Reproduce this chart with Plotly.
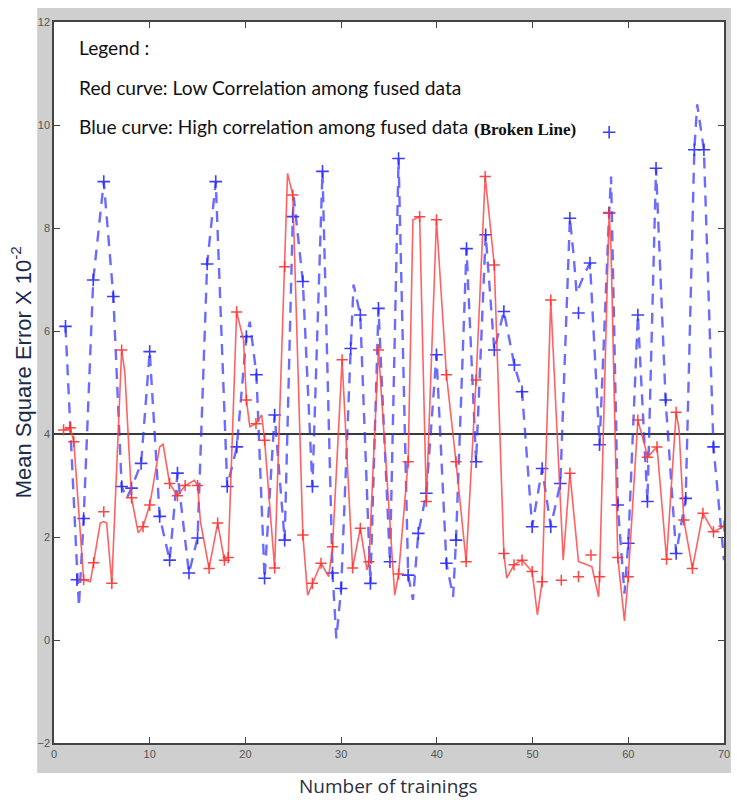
import plotly.graph_objects as go

# ---------------- data ----------------
red_x = [1.0, 1.7, 2.07, 3.1, 3.8, 4.14, 4.83, 5.18, 5.5, 6.04, 7.07, 7.4, 8.1, 8.8, 9.3, 10.0,
         11.04, 11.4, 12.08, 12.9, 13.7, 14.67, 15.0, 15.3, 16.2, 17.1, 17.8, 18.2, 19.08, 19.8,
         20.1, 20.46, 21.1, 21.7, 22.0, 23.05, 24.1, 24.4, 24.95, 26.0, 26.5, 27.0, 27.9, 28.7,
         29.1, 30.1, 31.2, 32.0, 32.7, 32.9, 33.9, 35.6, 36.0, 37.0, 37.5, 38.2, 38.9, 39.96,
         41.0, 42.0, 43.06, 44.1, 45.05, 46.0, 47.0, 47.3, 48.06, 48.9, 49.96, 50.5, 51.0, 51.9,
         53.2, 53.9, 54.8, 55.3, 56.2, 56.9, 57.0, 58.0, 58.2, 58.9, 59.6, 60.0, 61.0, 61.8,
         62.0, 63.0, 64.0, 65.0, 65.3, 65.8, 66.7, 67.8, 68.9, 70.0]
red_y = [4.08, 4.12, 3.85, 1.17, 1.13, 1.5, 2.27, 2.3, 2.27, 1.1, 5.63, 5.2, 2.76, 2.08, 2.2, 2.62,
         3.75, 3.8, 3.04, 2.8, 3.0, 3.1, 3.0, 2.3, 1.39, 2.27, 1.55, 1.6, 6.37, 5.83,
         4.66, 4.14, 4.2, 4.37, 3.88, 1.4, 7.25, 9.06, 8.64, 2.04, 0.87, 1.1, 1.49, 1.23,
         1.81, 5.44, 1.4, 2.17, 1.36, 1.52, 5.63, 0.87, 1.28, 3.46, 8.16, 8.22, 2.69, 8.16,
         5.15, 3.46, 1.52, 5.05, 9.0, 7.28, 1.68, 1.2, 1.46, 1.55, 1.33, 0.49, 1.13, 6.6,
         1.55, 3.24, 1.52, 1.49, 1.42, 0.84, 1.23, 8.3, 7.57, 1.6, 0.37, 1.23, 4.27, 3.72,
         3.55, 3.75, 1.57, 4.42, 4.1, 2.33, 1.39, 2.46, 2.1, 2.21]
red_marked = [1, 1, 1, 1, 0, 1, 0, 0, 0, 1, 1, 0, 1, 0, 1, 1,
              0, 0, 1, 1, 1, 0, 1, 0, 1, 1, 1, 1, 1, 0,
              1, 0, 1, 0, 1, 1, 1, 0, 1, 1, 0, 1, 1, 0,
              1, 1, 1, 1, 0, 1, 1, 0, 1, 1, 0, 1, 1, 1,
              1, 1, 1, 1, 1, 1, 1, 0, 1, 1, 1, 0, 1, 1,
              0, 1, 0, 0, 0, 0, 1, 1, 0, 1, 0, 1, 1, 0,
              1, 1, 1, 1, 0, 1, 1, 1, 1, 1]
red_extra_x = [5.2, 53.0, 54.8, 56.1]
red_extra_y = [2.49, 1.16, 1.23, 1.65]

blue_x = [1.2, 2.4, 2.6, 3.1, 4.1, 5.2, 6.2, 7.07, 7.6, 8.1, 9.1, 10.0, 11.04, 12.08, 12.9,
          14.1, 15.0, 16.0, 16.9, 18.1, 19.1, 20.1, 20.46, 21.15, 22.0, 23.05, 24.1, 24.95,
          25.05, 26.0, 27.0, 28.05, 29.1, 29.5, 30.0, 31.0, 31.3, 32.0, 33.06, 33.9, 35.1,
          36.0, 37.0, 37.5, 38.06, 38.9, 39.96, 41.0, 41.7, 42.0, 43.1, 44.1, 45.1, 46.0,
          47.0, 48.1, 48.9, 49.96, 51.0, 51.9, 52.9, 53.9, 54.3, 54.6, 55.4, 56.0, 57.0,
          58.0, 58.2, 58.9, 59.6, 60.0, 61.0, 62.0, 62.9, 63.9, 65.0, 66.0, 66.9, 67.2,
          67.9, 68.9, 70.0]
blue_y = [6.09, 1.17, 0.65, 2.36, 6.99, 8.9, 6.67, 2.98, 2.75, 2.95, 3.43, 5.6, 2.4, 1.55, 3.24,
          1.3, 1.98, 7.3, 8.9, 2.98, 3.75, 5.89, 6.18, 5.15, 1.2, 4.37, 1.94, 8.22,
          8.6, 6.96, 2.98, 9.1, 1.3, 0.03, 1.0, 5.66, 6.9, 6.31, 1.1, 6.44, 1.52,
          9.35, 1.26, 0.78, 2.07, 2.85, 5.54, 1.49, 0.84, 1.94, 7.6, 3.46, 7.87, 5.63,
          6.38, 5.34, 4.82, 2.2, 3.33, 2.2, 3.04, 8.19, 7.45, 6.73, 7.1, 7.32, 3.79,
          8.29, 9.0, 2.62, 0.9, 1.88, 6.31, 2.69, 9.16, 4.66, 1.68, 2.75, 9.52, 10.4,
          9.52, 3.75, 1.55]
blue_marked = [1, 1, 0, 1, 1, 1, 1, 1, 0, 1, 1, 1, 1, 1, 1,
               1, 1, 1, 1, 1, 1, 1, 0, 1, 1, 1, 1, 1,
               0, 1, 1, 1, 1, 0, 1, 1, 0, 1, 1, 1, 1,
               1, 1, 0, 1, 1, 1, 1, 0, 1, 1, 1, 1, 1,
               1, 1, 1, 1, 1, 1, 1, 1, 0, 0, 0, 1, 1,
               1, 0, 1, 0, 1, 1, 1, 1, 1, 1, 1, 1, 0,
               1, 1, 0]
blue_extra_x = [54.8, 58.0]
blue_extra_y = [6.35, 9.86]

threshold_x = [0, 70]
threshold_y = [4, 4]

x_ticks = [0, 10, 20, 30, 40, 50, 60, 70]
y_ticks = [-2, 0, 2, 4, 6, 8, 10, 12]

legend_lines = ["Legend :",
                "Red curve: Low Correlation among fused data",
                "Blue curve: High correlation among fused data"]
legend_note = "(Broken Line)"
x_title = "Number of trainings"
y_title = "Mean Square Error X 10<sup>-2</sup>"

# ---------------- figure ----------------
RED = "rgba(255,70,70,0.85)"
BLUE = "rgba(50,50,255,0.72)"

fig = go.Figure()

fig.add_trace(go.Scatter(x=threshold_x, y=threshold_y, mode="lines",
                         line=dict(color="#3a3a3a", width=2), hoverinfo="skip"))

fig.add_trace(go.Scatter(x=blue_x, y=blue_y, mode="lines",
                         line=dict(color=BLUE, width=2.4, dash="11px,8px")))
bmx = [x for x, m in zip(blue_x, blue_marked) if m] + blue_extra_x
bmy = [y for y, m in zip(blue_y, blue_marked) if m] + blue_extra_y
fig.add_trace(go.Scatter(x=bmx, y=bmy, mode="markers",
                         marker=dict(symbol="cross-thin", size=9,
                                     line=dict(color="rgba(40,40,255,0.9)", width=1.6))))

fig.add_trace(go.Scatter(x=red_x, y=red_y, mode="lines",
                         line=dict(color=RED, width=1.6)))
rmx = [x for x, m in zip(red_x, red_marked) if m] + red_extra_x
rmy = [y for y, m in zip(red_y, red_marked) if m] + red_extra_y
fig.add_trace(go.Scatter(x=rmx, y=rmy, mode="markers",
                         marker=dict(symbol="cross-thin", size=8,
                                     line=dict(color="rgba(255,50,50,0.9)", width=1.5))))

L, R, T, B = 54, 7, 22, 57
W, H = 737, 800
pw, ph = W - L - R, H - T - B

def px2paper_x(px):
    return (px - L) / pw

def px2paper_y(py):
    return (H - B - py) / ph

shapes = [
    dict(type="rect", xref="paper", yref="paper", layer="below",
         x0=px2paper_x(37), x1=px2paper_x(737), y0=px2paper_y(773), y1=px2paper_y(8),
         fillcolor="#cfcfcf", line=dict(width=0)),
    dict(type="rect", xref="paper", yref="paper", layer="below",
         x0=0, x1=1, y0=0, y1=1, fillcolor="white", line=dict(width=0)),
]

annotations = []
line_ys = [48, 88, 126]
for txt, py in zip(legend_lines, line_ys):
    annotations.append(dict(text=txt, xref="paper", yref="paper",
                            x=px2paper_x(77), y=px2paper_y(py), xanchor="left", yanchor="middle",
                            showarrow=False, font=dict(family="Lato", size=19.2, color="#111")))
annotations.append(dict(text="<b>" + legend_note + "</b>", xref="paper", yref="paper",
                        x=px2paper_x(476), y=px2paper_y(129), xanchor="left", yanchor="middle",
                        showarrow=False,
                        font=dict(family="Liberation Serif", size=17, color="#111")))
annotations.append(dict(text=y_title, xref="paper", yref="paper",
                        x=px2paper_x(21), y=px2paper_y(372), xanchor="center", yanchor="middle",
                        textangle=-90, showarrow=False,
                        font=dict(family="Liberation Sans", size=22, color="#1b2b4b")))
annotations.append(dict(text=x_title, xref="paper", yref="paper",
                        x=px2paper_x(391), y=px2paper_y(786), xanchor="center", yanchor="middle",
                        showarrow=False,
                        font=dict(family="Open Sans", size=19, color="#2a2f3f")))

tick_font = dict(family="Liberation Sans", size=11, color="#555")

fig.update_layout(
    width=W, height=H,
    margin=dict(l=L, r=R, t=T, b=B, pad=0),
    paper_bgcolor="white", plot_bgcolor="white",
    showlegend=False,
    shapes=shapes, annotations=annotations,
    xaxis=dict(range=[0, 70], tickvals=x_ticks, ticks="inside", ticklen=6, tickcolor="#444",
               showline=True, linecolor="#444", linewidth=1.5, mirror="ticks",
               showgrid=False, zeroline=False, tickfont=tick_font),
    yaxis=dict(range=[-2, 12], tickvals=y_ticks, ticks="inside", ticklen=6, tickcolor="#444",
               showline=True, linecolor="#444", linewidth=1.5, mirror="ticks",
               showgrid=False, zeroline=False, tickfont=tick_font),
)

fig.write_html("out.html", config={"displayModeBar": False},
               post_script="document.body.style.margin='0px';document.body.style.overflow='hidden';")
